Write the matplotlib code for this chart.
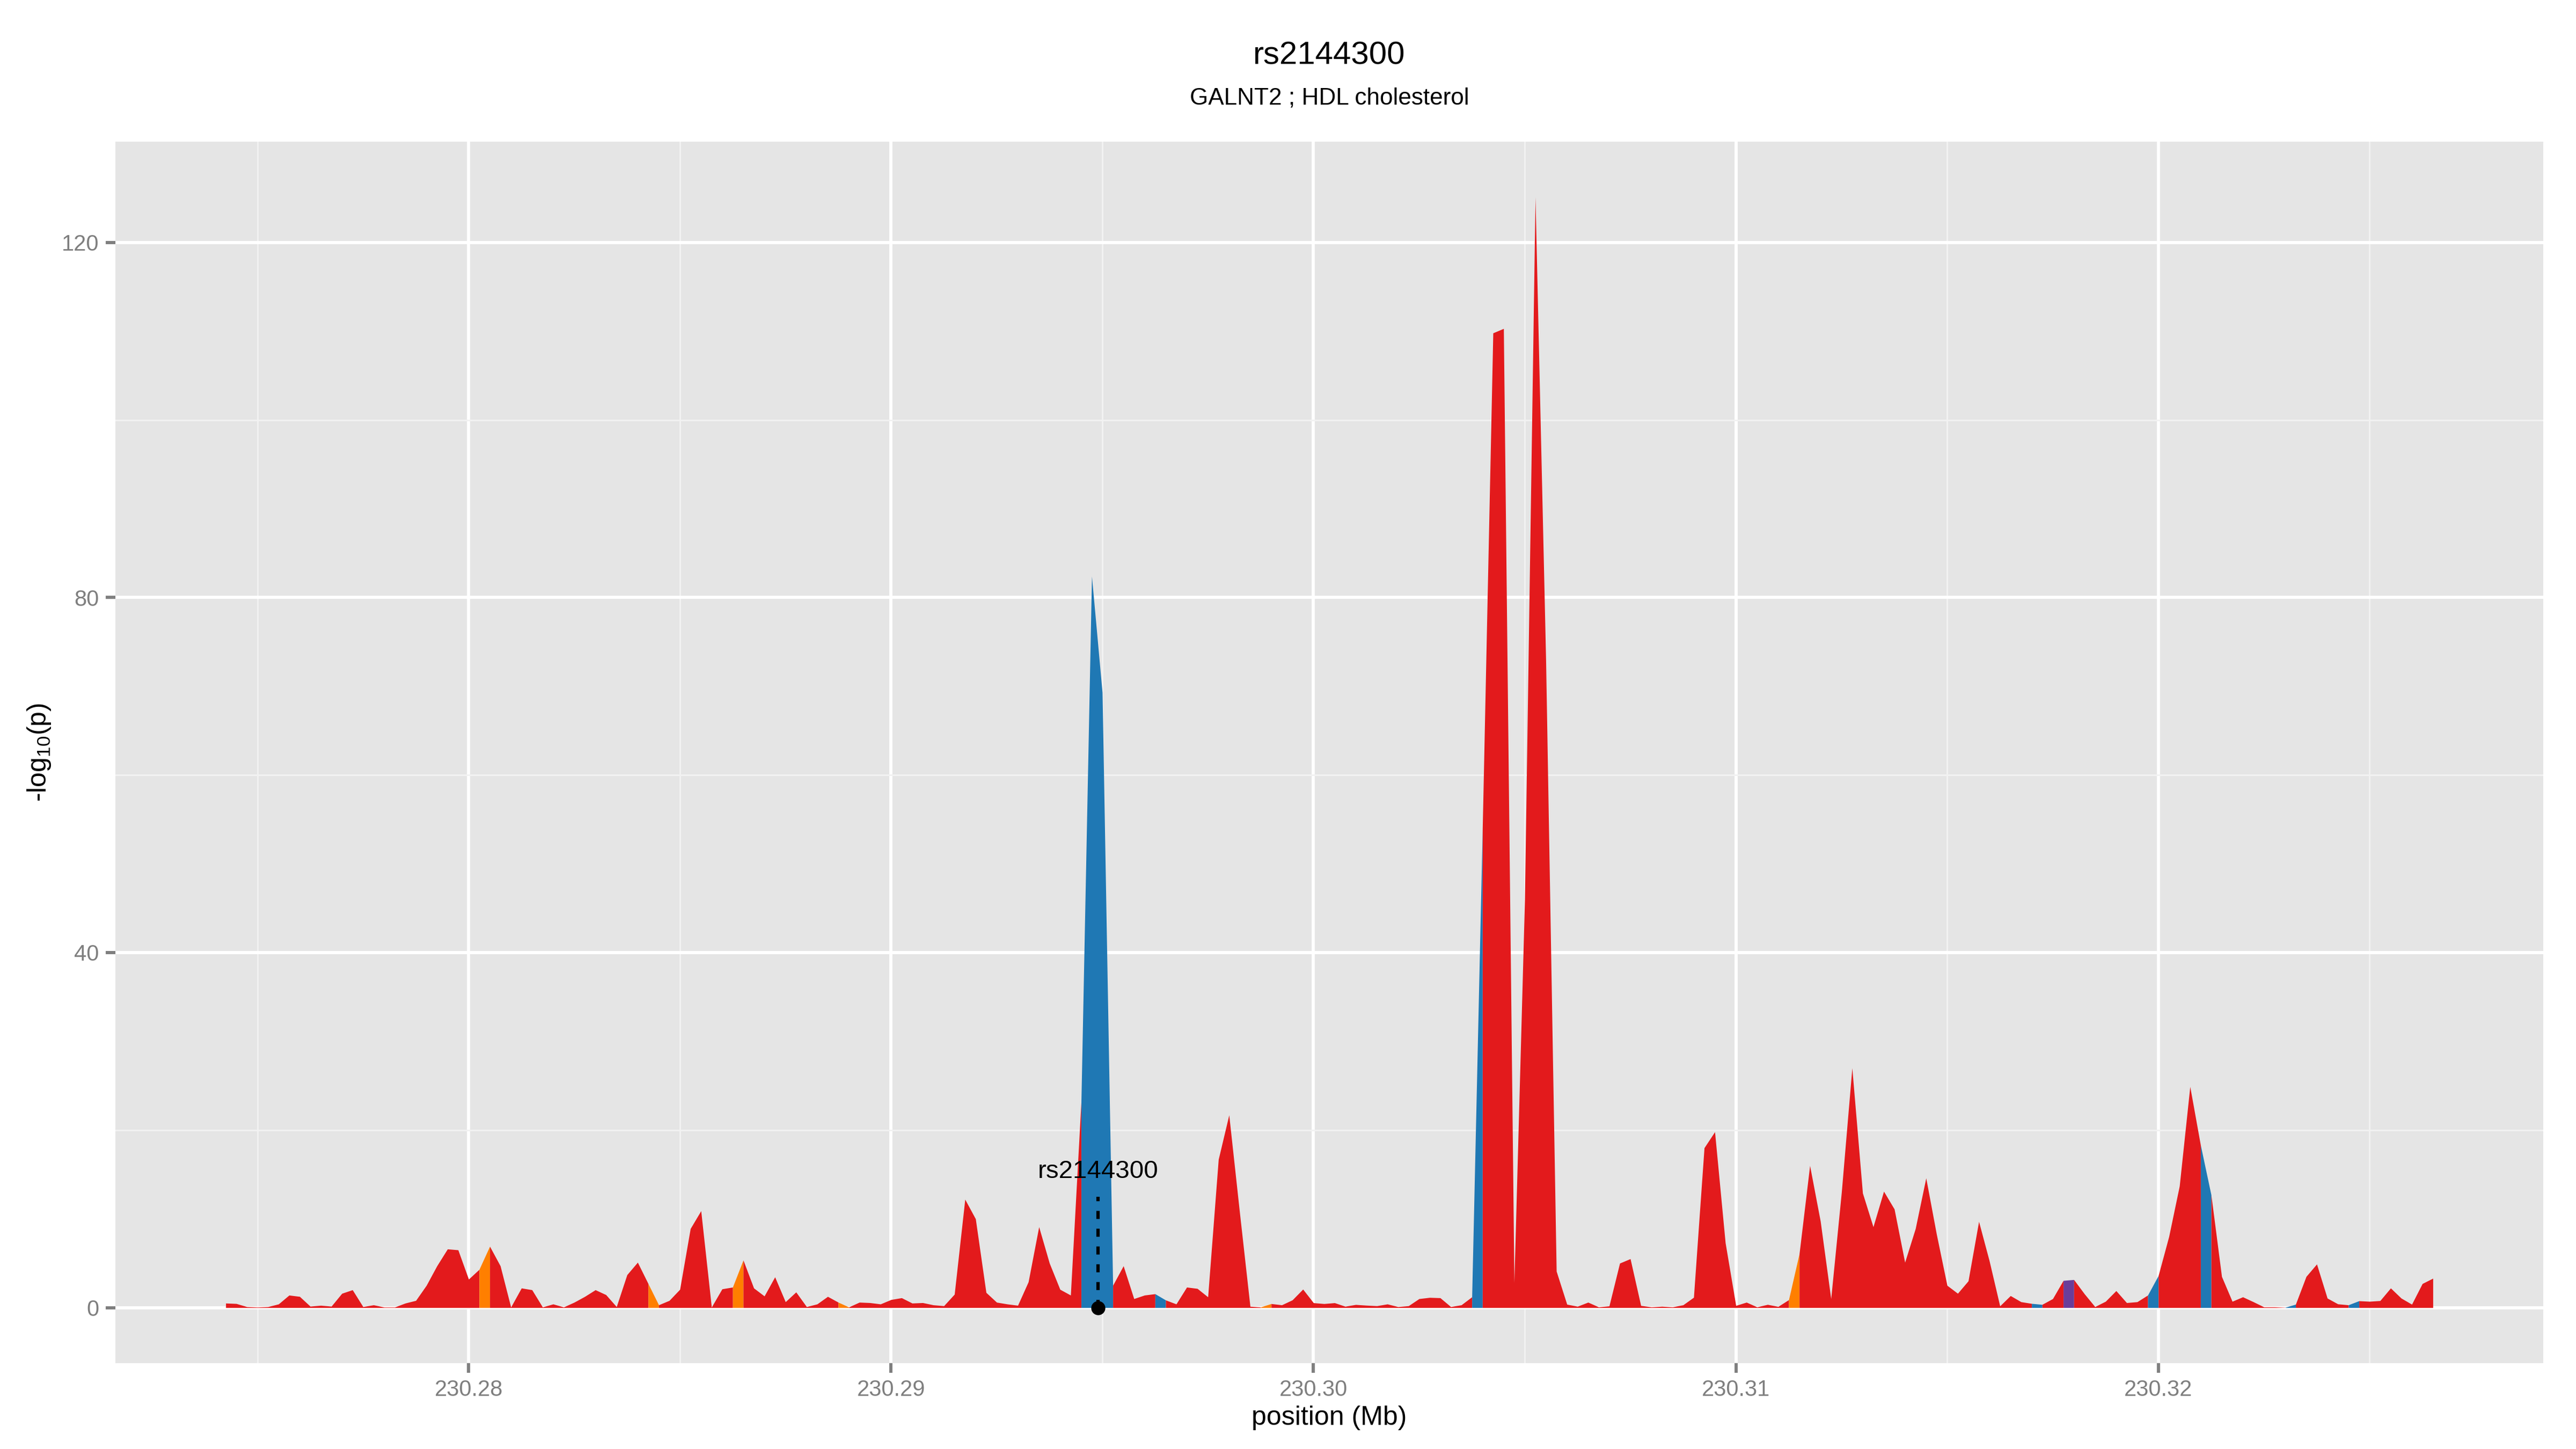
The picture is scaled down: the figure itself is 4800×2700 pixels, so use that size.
import matplotlib
matplotlib.use("Agg")
from matplotlib import pyplot as plt
import numpy as np

plt.rcParams['font.family'] = ['Liberation Sans', 'DejaVu Sans']
plt.rcParams['mathtext.fontset'] = 'custom'
plt.rcParams['mathtext.rm'] = 'Liberation Sans'
plt.rcParams['mathtext.it'] = 'Liberation Sans:italic'

snp_name = "rs2144300"
subtitle = "GALNT2 ; HDL cholesterol"

# position of each window (Mb)
position = [
    230.27425, 230.27450, 230.27475, 230.27500, 230.27525, 230.27550, 230.27575, 230.27600,
    230.27625, 230.27650, 230.27675, 230.27700, 230.27725, 230.27750, 230.27775, 230.27800,
    230.27825, 230.27850, 230.27875, 230.27900, 230.27925, 230.27950, 230.27975, 230.28000,
    230.28025, 230.28050, 230.28075, 230.28100, 230.28125, 230.28150, 230.28175, 230.28200,
    230.28225, 230.28250, 230.28275, 230.28300, 230.28325, 230.28350, 230.28375, 230.28400,
    230.28425, 230.28450, 230.28475, 230.28500, 230.28525, 230.28550, 230.28575, 230.28600,
    230.28625, 230.28650, 230.28675, 230.28700, 230.28725, 230.28750, 230.28775, 230.28800,
    230.28825, 230.28850, 230.28875, 230.28900, 230.28925, 230.28950, 230.28975, 230.29000,
    230.29025, 230.29050, 230.29075, 230.29100, 230.29125, 230.29150, 230.29175, 230.29200,
    230.29225, 230.29250, 230.29275, 230.29300, 230.29325, 230.29350, 230.29375, 230.29400,
    230.29425, 230.29450, 230.29475, 230.29500, 230.29525, 230.29550, 230.29575, 230.29600,
    230.29625, 230.29650, 230.29675, 230.29700, 230.29725, 230.29750, 230.29775, 230.29800,
    230.29825, 230.29850, 230.29875, 230.29900, 230.29925, 230.29950, 230.29975, 230.30000,
    230.30025, 230.30050, 230.30075, 230.30100, 230.30125, 230.30150, 230.30175, 230.30200,
    230.30225, 230.30250, 230.30275, 230.30300, 230.30325, 230.30350, 230.30375, 230.30400,
    230.30425, 230.30450, 230.30475, 230.30500, 230.30525, 230.30550, 230.30575, 230.30600,
    230.30625, 230.30650, 230.30675, 230.30700, 230.30725, 230.30750, 230.30775, 230.30800,
    230.30825, 230.30850, 230.30875, 230.30900, 230.30925, 230.30950, 230.30975, 230.31000,
    230.31025, 230.31050, 230.31075, 230.31100, 230.31125, 230.31150, 230.31175, 230.31200,
    230.31225, 230.31250, 230.31275, 230.31300, 230.31325, 230.31350, 230.31375, 230.31400,
    230.31425, 230.31450, 230.31475, 230.31500, 230.31525, 230.31550, 230.31575, 230.31600,
    230.31625, 230.31650, 230.31675, 230.31700, 230.31725, 230.31750, 230.31775, 230.31800,
    230.31825, 230.31850, 230.31875, 230.31900, 230.31925, 230.31950, 230.31975, 230.32000,
    230.32025, 230.32050, 230.32075, 230.32100, 230.32125, 230.32150, 230.32175, 230.32200,
    230.32225, 230.32250, 230.32275, 230.32300, 230.32325, 230.32350, 230.32375, 230.32400,
    230.32425, 230.32450, 230.32475, 230.32500, 230.32525, 230.32550, 230.32575, 230.32600,
    230.32625, 230.32650,
]

# -log10(p)
logp = [
    0.5, 0.45, 0.1, 0.05, 0.1, 0.4, 1.4, 1.25,
    0.15, 0.25, 0.15, 1.6, 2.0, 0.1, 0.3, 0.05,
    0.05, 0.5, 0.8, 2.5, 4.7, 6.6, 6.5, 3.2,
    4.3, 6.9, 4.7, 0.05, 2.2, 2.0, 0.06, 0.4,
    0.06, 0.6, 1.25, 2.0, 1.45, 0.1, 3.7, 5.1,
    2.7, 0.3, 0.8, 2.05, 8.9, 10.9, 0.05, 2.1,
    2.3, 5.35, 2.2, 1.3, 3.45, 0.65, 1.75, 0.1,
    0.4, 1.25, 0.6, 0.06, 0.6, 0.55, 0.4, 0.9,
    1.1, 0.5, 0.55, 0.3, 0.2, 1.5, 12.2, 10.0,
    1.7, 0.6, 0.4, 0.25, 2.9, 9.1, 5.0, 2.05,
    1.4, 23.2, 82.4, 69.3, 2.5, 4.7, 1.0, 1.4,
    1.55, 0.85, 0.4, 2.3, 2.15, 1.2, 16.7, 21.7,
    10.8, 0.14, 0.06, 0.44, 0.3, 0.86, 2.07, 0.54,
    0.44, 0.54, 0.14, 0.34, 0.26, 0.2, 0.4, 0.1,
    0.2, 1.0, 1.14, 1.1, 0.1, 0.3, 1.2, 54.0,
    109.8, 110.3, 2.8, 46.0, 125.1, 73.0, 4.1, 0.37,
    0.14, 0.6, 0.07, 0.18, 5.0, 5.5, 0.23, 0.07,
    0.14, 0.07, 0.3, 1.15, 18.0, 19.8, 7.3, 0.23,
    0.6, 0.07, 0.35, 0.12, 0.88, 6.06, 16.0, 9.75,
    1.0, 13.0, 27.0, 12.9, 9.1, 13.1, 11.1, 5.1,
    8.9, 14.6, 8.25, 2.5, 1.6, 3.0, 9.7, 5.25,
    0.18, 1.34, 0.65, 0.46, 0.35, 1.0, 3.05, 3.15,
    1.55, 0.1, 0.7, 1.9, 0.55, 0.65, 1.4, 3.6,
    8.0, 13.7, 24.9, 18.3, 12.7, 3.5, 0.7, 1.2,
    0.65, 0.07, 0.07, 0.02, 0.37, 3.5, 4.9, 1.06,
    0.41, 0.3, 0.76, 0.7, 0.78, 2.2, 1.06, 0.37,
    2.7, 3.3,
]

# segments (between window i and i+1) that are not red
blue_segments = [81, 82, 83, 88, 118, 171, 182, 187, 195, 201]
orange_segments = [24, 40, 48, 58, 98, 148]
purple_segments = [174]

snp_position = 230.2949
snp_line_top = 12.5
snp_label_y = 14.6

x_ticks = [230.28, 230.29, 230.30, 230.31, 230.32]
x_minor = [230.275, 230.285, 230.295, 230.305, 230.315, 230.325]
y_ticks = [0, 40, 80, 120]
y_minor = [20, 60, 100]

RED = '#E31A1C'
BLUE = '#1F78B4'
ORANGE = '#FF7F00'
PURPLE = '#6A3D9A'
GREY50 = '#7F7F7F'

fig = plt.figure(figsize=(16, 9), dpi=300)
ax = fig.add_axes([215 / 4800, 1 - 2540 / 2700, (4739 - 215) / 4800, (2540 - 264) / 2700])
ax.set_facecolor('#E5E5E5')
for s in ax.spines.values():
    s.set_visible(False)

seg_colour = [RED] * (len(position) - 1)
for i in blue_segments:
    seg_colour[i] = BLUE
for i in orange_segments:
    seg_colour[i] = ORANGE
for i in purple_segments:
    seg_colour[i] = PURPLE

start = 0
for i in range(1, len(seg_colour) + 1):
    if i == len(seg_colour) or seg_colour[i] != seg_colour[start]:
        ax.fill_between(position[start:i + 1], logp[start:i + 1], 0,
                        color=seg_colour[start], lw=0, zorder=2)
        start = i

# marker for the lead snp
ax.plot([snp_position, snp_position], [0, snp_line_top], color='black', lw=1.5,
        linestyle=(0, (2.4, 2.9)), zorder=3)
ax.plot([snp_position], [0], 'o', color='black', markersize=5.3, zorder=4)
ax.text(snp_position, snp_label_y, snp_name, ha='center', va='baseline',
        fontsize=11.4, color='black', zorder=5)

# ggplot style expansion of 5%
xspan = max(position) - min(position)
yspan = max(logp) - min(0, min(logp))
ax.set_xlim(min(position) - 0.05 * xspan, max(position) + 0.05 * xspan)
ax.set_ylim(-0.05 * yspan, max(logp) + 0.05 * yspan)

ax.set_xticks(x_ticks)
ax.set_xticklabels(['{:.2f}'.format(t) for t in x_ticks])
ax.set_xticks(x_minor, minor=True)
ax.set_yticks(y_ticks)
ax.set_yticklabels([str(t) for t in y_ticks])
ax.set_yticks(y_minor, minor=True)
ax.tick_params(which='major', length=4.3, width=1.42, color=GREY50,
               labelcolor=GREY50, labelsize=10, pad=3)
ax.tick_params(which='minor', length=0)

ax.set_axisbelow(True)
ax.grid(which='minor', color='#F2F2F2', lw=0.71)
ax.grid(which='major', color='white', lw=1.42)

fig.text(2477 / 4800, 1 - 120 / 2700, snp_name, ha='center', va='baseline', fontsize=14.4)
fig.text(2477 / 4800, 1 - 195 / 2700, subtitle, ha='center', va='baseline', fontsize=10.6)
fig.text(2477 / 4800, 1 - 2655 / 2700, 'position (Mb)', ha='center', va='baseline', fontsize=12)
fig.text(73 / 4800, 1 - 1402 / 2700, r'-log$_{\mathrm{10}}$(p)', rotation=90,
         ha='center', va='center', fontsize=12)

fig.savefig('out.png', dpi=300, facecolor='white')
